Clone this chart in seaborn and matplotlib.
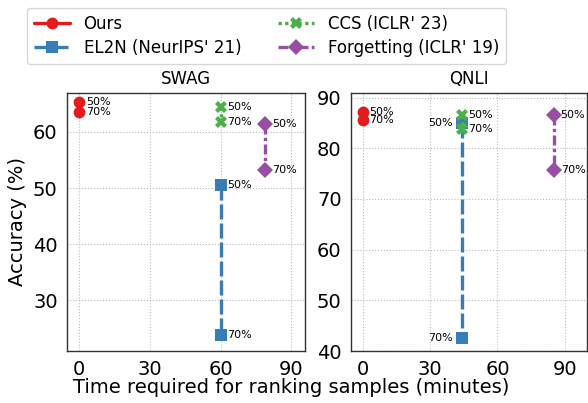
import matplotlib
matplotlib.use("Agg")
import matplotlib.pyplot as plt
import seaborn as sns
import pandas as pd

sns.set_style("white")
plt.rcParams['font.family'] = ['DejaVu Sans']
for k in ["text.color", "axes.labelcolor", "xtick.color", "ytick.color"]:
    plt.rcParams[k] = "black"

methods = ["Ours", "EL2N (NeurIPS' 21)", "CCS (ICLR' 23)", "Forgetting (ICLR' 19)"]
colors = ["#e41a1c", "#377eb8", "#4daf4a", "#984ea3"]
markers = ["o", "s", "X", "D"]
dashes = ["", (4.5, 1.2), (1, 1), (3, 1, 1, 1)]
ratio_labels = ["50%", "70%"]

swag_time = [0, 60, 60, 79]
swag_acc = [[65.4, 63.6], [50.5, 23.8], [64.5, 61.8], [61.4, 53.2]]
qnli_time = [0, 44, 44, 85]
qnli_acc = [[87.2, 85.5], [84.9, 42.5], [86.5, 83.9], [86.5, 75.8]]

fig = plt.figure(figsize=(5.88, 4.03), dpi=100)
ax1 = fig.add_axes([0.1134, 0.129, 0.4053, 0.6414])
ax2 = fig.add_axes([0.5964, 0.129, 0.4014, 0.6414])

panels = [(ax1, "SWAG", swag_time, swag_acc, (21, 67), (-5.3, 95.8), set()),
          (ax2, "QNLI", qnli_time, qnli_acc, (40, 91), (-5.3, 99.7), {1})]

handles, labels = None, None
for ax, title, times, accs, ylim, xlim, left_set in panels:
    rows = []
    for i, m in enumerate(methods):
        for j, lab in enumerate(ratio_labels):
            rows.append({"method": m, "t": times[i], "acc": accs[i][j], "ratio": lab})
    df = pd.DataFrame(rows)
    sns.lineplot(data=df, x="t", y="acc", hue="method", style="method", ax=ax,
                 estimator=None, sort=False,
                 palette=dict(zip(methods, colors)),
                 markers=dict(zip(methods, markers)),
                 dashes=dict(zip(methods, dashes)),
                 linewidth=2.4, markersize=8.5, markeredgewidth=0)
    for i, m in enumerate(methods):
        for j, lab in enumerate(ratio_labels):
            if i in left_set:
                ax.annotate(lab, (times[i], accs[i][j]), xytext=(-6, 0),
                            textcoords="offset points", ha="right", va="center", fontsize=8)
            else:
                ax.annotate(lab, (times[i], accs[i][j]), xytext=(5, 0),
                            textcoords="offset points", ha="left", va="center", fontsize=8)
    if handles is None:
        handles, labels = ax.get_legend_handles_labels()
    ax.get_legend().remove()
    ax.set_title(title, fontsize=12)
    ax.set_ylim(*ylim)
    ax.set_xlim(*xlim)
    ax.set_xticks([0, 30, 60, 90])
    ax.tick_params(labelsize=14, length=3)
    ax.grid(True, linestyle=":", color="#bbbbbb", linewidth=0.8)
    ax.set_xlabel("")
    ax.set_ylabel("")
    for s in ax.spines.values():
        s.set_color("#333333")
        s.set_linewidth(1.0)

ax1.set_yticks([30, 40, 50, 60])
ax2.set_yticks([40, 50, 60, 70, 80, 90])
ax1.set_ylabel("Accuracy (%)", fontsize=14)
fig.text(0.496, 0.015, "Time required for ranking samples (minutes)", ha="center",
         va="bottom", fontsize=14)

fig.legend(handles, labels, ncol=2, fontsize=12, loc="upper center",
           bbox_to_anchor=(0.453, 1.0), frameon=True, columnspacing=2.2,
           handlelength=2.2, borderpad=0.4, labelspacing=0.35)

fig.savefig("out.png", dpi=100)
